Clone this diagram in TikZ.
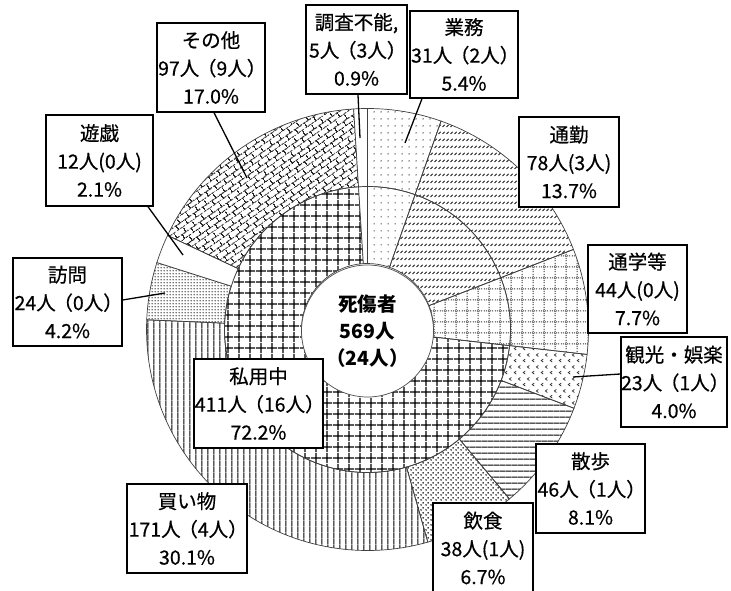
\documentclass[tikz,border=0pt]{standalone}
\usepackage{fontspec}
\newfontfamily\jp[RawFeature={embolden=0.5}]{Noto Sans CJK JP}
\newfontfamily\jpb{Noto Sans CJK JP}
\usetikzlibrary{patterns.meta}

\tikzdeclarepattern{name=pGyomu, type=uncolored,
  bounding box={(0pt,0pt) and (7pt,7pt)}, tile size={(7pt,7pt)},
  code={\fill (3.5pt,3.5pt) circle (0.8pt);}}
\tikzdeclarepattern{name=pTsukin, type=uncolored,
  bounding box={(0pt,0pt) and (3.6pt,7pt)}, tile size={(3.6pt,7pt)},
  code={\draw[line width=1pt] (0.6pt,2.3pt) -- (3pt,4.7pt);}}
\tikzdeclarepattern{name=pTsugaku, type=uncolored,
  bounding box={(0pt,0pt) and (11pt,11pt)}, tile size={(11pt,11pt)},
  code={\draw[line width=1pt, dash pattern=on 1.1pt off 1.1pt] (0pt,5.5pt) -- (11pt,5.5pt) (5.5pt,0pt) -- (5.5pt,11pt);}}
\tikzdeclarepattern{name=pGrid, type=uncolored,
  bounding box={(0pt,0pt) and (10.6pt,10.6pt)}, tile size={(10.6pt,10.6pt)},
  code={\draw[line width=1.3pt] (0pt,5.3pt) -- (10.6pt,5.3pt) (5.3pt,0pt) -- (5.3pt,10.6pt);}}
\tikzdeclarepattern{name=pKanko, type=uncolored,
  bounding box={(0pt,0pt) and (9pt,12pt)}, tile size={(9pt,12pt)},
  code={\draw[line width=0.8pt] (3.6pt,1pt) -- (1.4pt,2.6pt) -- (3.6pt,4.2pt) (8.1pt,7pt) -- (5.9pt,8.6pt) -- (8.1pt,10.2pt);}}
\tikzdeclarepattern{name=pHoriz, type=uncolored,
  bounding box={(0pt,0pt) and (5.8pt,5.8pt)}, tile size={(5.8pt,5.8pt)},
  code={\draw[line width=1pt] (0pt,2.9pt) -- (5.8pt,2.9pt);}}
\tikzdeclarepattern{name=pVert, type=uncolored,
  bounding box={(0pt,0pt) and (5.8pt,5.8pt)}, tile size={(5.8pt,5.8pt)},
  code={\draw[line width=1pt] (2.9pt,0pt) -- (2.9pt,5.8pt);}}
\tikzdeclarepattern{name=pDense, type=uncolored,
  bounding box={(0pt,0pt) and (5pt,5pt)}, tile size={(5pt,5pt)},
  code={\fill (1.25pt,1.25pt) circle (1pt); \fill (3.75pt,3.75pt) circle (1pt);}}
\tikzdeclarepattern{name=pFine, type=uncolored,
  bounding box={(0pt,0pt) and (2.6pt,2.6pt)}, tile size={(2.6pt,2.6pt)},
  code={\fill (1.3pt,1.3pt) circle (0.85pt);}}
\tikzdeclarepattern{name=pBrick, type=uncolored,
  bounding box={(0pt,0pt) and (11pt,11pt)}, tile size={(11pt,11pt)},
  tile transformation={rotate=35},
  code={\draw[line width=1.1pt] (0pt,0.5pt) -- (11pt,0.5pt) (0pt,6pt) -- (11pt,6pt) (2pt,0.5pt) -- (2pt,6pt) (7.5pt,6pt) -- (7.5pt,11pt);}}

\newcommand\ringsec[5]{\path[#1] ({90-(#4)}:#3) arc[start angle={90-(#4)}, end angle={90-(#5)}, radius=#3] -- ({90-(#5)}:#2) arc[start angle={90-(#5)}, end angle={90-(#4)}, radius=#2] -- cycle;}
\newcommand\lp{\kern-0.12em（}
\newcommand\rp{）\kern-0.12em}

\begin{document}
\begin{tikzpicture}[x=1pt, y=-1pt,
  sec/.style={draw=black!75, line width=0.7pt},
  lbl/.style={draw=black, line width=1.4pt, fill=white, inner sep=0pt, align=center, font=\jp\fontsize{19.5}{28}\selectfont},
  lead/.style={draw=black, line width=1.3pt}]
\useasboundingbox (0,0) rectangle (731,591);

\begin{scope}[shift={(367.5,329.5)}, y=1pt]
  % inner ring
  \ringsec{sec, pattern=pGyomu, pattern color=black!80}{66}{143}{0}{19.44}
  \ringsec{sec, pattern=pTsukin, pattern color=black!90}{66}{143}{19.44}{68.76}
  \ringsec{sec, pattern=pTsugaku, pattern color=black!80}{66}{143}{68.76}{96.48}
  \ringsec{sec, pattern=pGrid, pattern color=black}{66}{143}{96.48}{356.4}
  \ringsec{sec, fill=white}{66}{143}{356.4}{360}
  % outer ring
  \ringsec{sec, pattern=pGyomu, pattern color=black!80}{143}{221}{0}{19.44}
  \ringsec{sec, pattern=pTsukin, pattern color=black!90}{143}{221}{19.44}{68.76}
  \ringsec{sec, pattern=pTsugaku, pattern color=black!80}{143}{221}{68.76}{96.48}
  \ringsec{sec, pattern=pKanko, pattern color=black!80}{143}{221}{96.48}{110.88}
  \ringsec{sec, pattern=pHoriz, pattern color=black}{143}{221}{110.88}{140.04}
  \ringsec{sec, pattern=pDense, pattern color=black}{143}{221}{140.04}{164.16}
  \ringsec{sec, pattern=pVert, pattern color=black}{143}{221}{164.16}{272.52}
  \ringsec{sec, pattern=pFine, pattern color=black!70}{143}{221}{272.52}{287.64}
  \ringsec{sec, fill=white}{143}{221}{287.64}{295.2}
  \ringsec{sec, pattern=pBrick, pattern color=black!85}{143}{221}{295.2}{356.4}
  \ringsec{sec, fill=white}{143}{221}{356.4}{360}
\end{scope}

\node[circle, draw=black!70, line width=0.7pt, fill=white, minimum size=132, inner sep=0pt, align=center,
  font=\jpb\bfseries\fontsize{19.5}{27}\selectfont] (total) at (367.5,331) {死傷者\\569人\\\lp 24人\rp};

% label boxes
\node[lbl, minimum width=101, minimum height=89] (chousa) at (356.5,49.5) {調査不能,\\5人\lp 3人\rp\\0.9\%};
\node[lbl, minimum width=108, minimum height=87] (gyomu) at (464,54.5) {業務\\31人\lp 2人\rp\\5.4\%};
\node[lbl, minimum width=100, minimum height=90] (tsukin) at (569,162) {通勤\\78人(3人)\\13.7\%};
\node[lbl, minimum width=99, minimum height=88] (tsugaku) at (637.5,289) {通学等\\44人(0人)\\7.7\%};
\node[lbl, minimum width=106, minimum height=90] (kanko) at (674,382) {観光・娯楽\\23人\lp 1人\rp\\4.0\%};
\node[lbl, minimum width=109, minimum height=89] (sanpo) at (590.5,488.5) {散歩\\46人\lp 1人\rp\\8.1\%};
\node[lbl, minimum width=100, minimum height=90] (inshoku) at (483,548) {飲食\\38人(1人)\\6.7\%};
\node[lbl, minimum width=120, minimum height=89] (kaimono) at (187,528.5) {買い物\\171人\lp 4人\rp\\30.1\%};
\node[lbl, minimum width=129, minimum height=89] (shiyou) at (258.5,403.5) {私用中\\411人\lp 16人\rp\\72.2\%};
\node[lbl, minimum width=109, minimum height=88] (houmon) at (67.5,302) {訪問\\24人\lp 0人\rp\\4.2\%};
\node[lbl, minimum width=107, minimum height=91] (yuugi) at (99.5,160.5) {遊戯\\12人(0人)\\2.1\%};
\node[lbl, minimum width=108, minimum height=89] (sonota) at (211,67.5) {その他\\97人\lp 9人\rp\\17.0\%};

% leader lines
\coordinate (chousaTip) at (360,138);
\coordinate (gyomuTip) at (405,143);
\coordinate (sonotaTip) at (247,178);
\coordinate (yuugiTip) at (183,255);
\coordinate (houmonTip) at (165,293);
\coordinate (kankoTip) at (573,377);
\draw[lead] ([xshift=1.5pt]chousa.south) -- (chousaTip);
\draw[lead] ([xshift=-42pt]gyomu.south) -- (gyomuTip);
\draw[lead] ([xshift=3pt]sonota.south) -- (sonotaTip);
\draw[lead] ([xshift=48.5pt]yuugi.south) -- (yuugiTip);
\draw[lead] ([yshift=2pt]houmon.east) -- (houmonTip);
\draw[lead] ([yshift=8pt]kanko.west) -- (kankoTip);
\end{tikzpicture}
\end{document}
